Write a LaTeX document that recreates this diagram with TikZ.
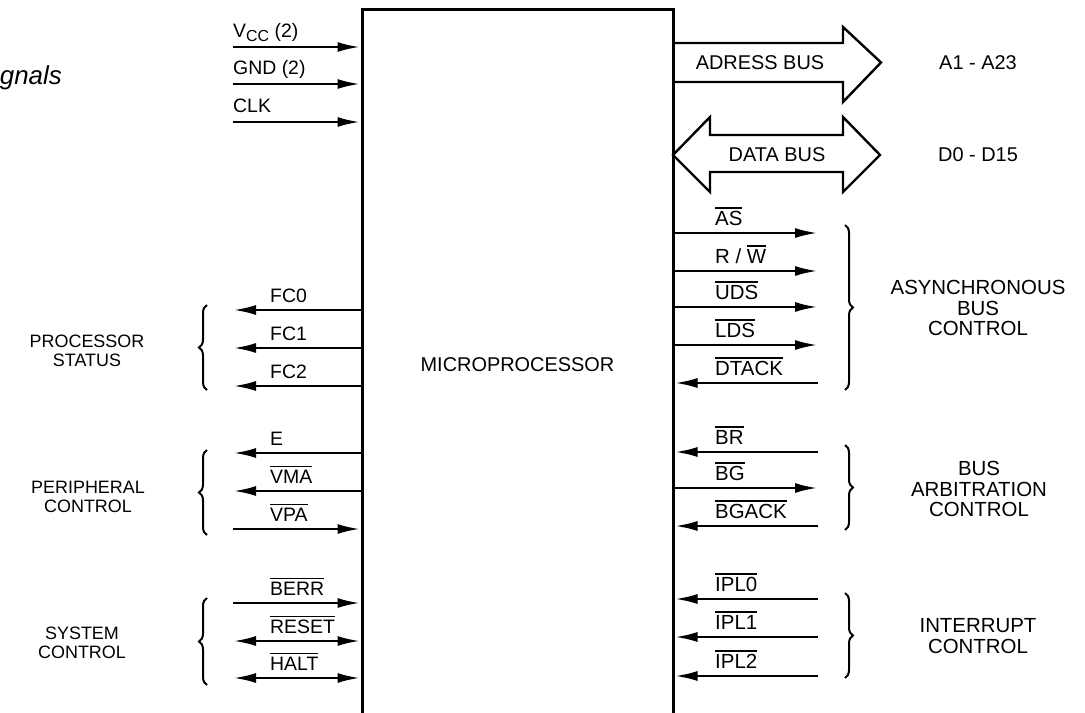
\documentclass[tikz,border=0pt]{standalone}
\usepackage{fontspec}
\setmainfont{Liberation Sans}
\usetikzlibrary{arrows.meta,decorations.pathreplacing}
\newcommand{\ovl}[1]{\leavevmode\vbox{\hrule height 1.3bp\kern 2.2bp\hbox{#1}}}

\begin{document}
\begin{tikzpicture}[
  x=1bp,y=-1bp,
  chip/.style={draw,line width=3bp,minimum width=311bp,minimum height=710bp,inner sep=0pt,font=\fontsize{20}{22}\selectfont},
  lab/.style={anchor=base west,inner sep=0pt,font=\fontsize{19.5}{20}\selectfont},
  rlab/.style={lab,font=\fontsize{20.5}{21}\selectfont},
  grp/.style={align=center,inner sep=0pt,font=\fontsize{18}{19.5}\selectfont},
  rgrp/.style={grp,font=\fontsize{20.5}{21}\selectfont},
  buslab/.style={inner sep=0pt,font=\fontsize{20}{22}\selectfont},
  ttl/.style={anchor=base east,inner sep=0pt,font=\fontsize{26}{28}\selectfont\itshape},
  sigout/.style={line width=2.8bp,-{Latex[length=23bp,width=10bp]}},
  sigboth/.style={line width=2.8bp,{Latex[length=23bp,width=10bp]}-{Latex[length=23bp,width=10bp]}},
  bus/.style={line width=2.4bp,line join=miter},
  grpbrace/.style={line width=2bp,decorate,decoration={brace,amplitude=8bp,aspect=0.5}}
]
  \useasboundingbox (0,0) rectangle (1085,713);
  \clip (0,0) rectangle (1085,713);

  \node[ttl] (title) at (62,85) {gnals};
  \node[chip] (mpu) at (517.5,365) {MICROPROCESSOR};

  % free ends of the signal lines
  \coordinate (vcc) at (233,47);
  \coordinate (gnd) at (233,84);
  \coordinate (clk) at (233,122);
  \coordinate (fc0) at (233,310);
  \coordinate (fc1) at (233,348);
  \coordinate (fc2) at (233,386);
  \coordinate (e) at (233,453);
  \coordinate (vma) at (233,491);
  \coordinate (vpa) at (233,529);
  \coordinate (berr) at (233,603);
  \coordinate (reset) at (233,641);
  \coordinate (halt) at (233,678);
  \coordinate (as) at (818,233);
  \coordinate (rw) at (818,271);
  \coordinate (uds) at (818,307);
  \coordinate (lds) at (818,345);
  \coordinate (dtack) at (818,383);
  \coordinate (br) at (818,452);
  \coordinate (bg) at (818,488);
  \coordinate (bgack) at (818,526);
  \coordinate (ipl0) at (818,599);
  \coordinate (ipl1) at (818,637);
  \coordinate (ipl2) at (818,676);

  % left side
  \node[lab] (vcclab) at ([yshift=9bp]vcc) {V\raisebox{-4bp}{\fontsize{16}{16}\selectfont CC} (2)};
  \node[lab] (gndlab) at ([yshift=9bp]gnd) {GND (2)};
  \node[lab] (clklab) at ([yshift=9bp]clk) {CLK};
  \draw[sigout] (vcc) -- (vcc -| mpu.west);
  \draw[sigout] (gnd) -- (gnd -| mpu.west);
  \draw[sigout] (clk) -- (clk -| mpu.west);

  \node[lab] (fc0lab) at ([xshift=37bp,yshift=8bp]fc0) {FC0};
  \node[lab] (fc1lab) at ([xshift=37bp,yshift=8bp]fc1) {FC1};
  \node[lab] (fc2lab) at ([xshift=37bp,yshift=8bp]fc2) {FC2};
  \draw[sigout] (fc0 -| mpu.west) -- (fc0);
  \draw[sigout] (fc1 -| mpu.west) -- (fc1);
  \draw[sigout] (fc2 -| mpu.west) -- (fc2);

  \node[lab] (elab) at ([xshift=37bp,yshift=8bp]e) {E};
  \node[lab] (vmalab) at ([xshift=37bp,yshift=8bp]vma) {\ovl{VMA}};
  \node[lab] (vpalab) at ([xshift=37bp,yshift=8bp]vpa) {\ovl{VPA}};
  \draw[sigout] (e -| mpu.west) -- (e);
  \draw[sigout] (vma -| mpu.west) -- (vma);
  \draw[sigout] (vpa) -- (vpa -| mpu.west);

  \node[lab] (berrlab) at ([xshift=37bp,yshift=8bp]berr) {\ovl{BERR}};
  \node[lab] (resetlab) at ([xshift=37bp,yshift=8bp]reset) {\ovl{RESET}};
  \node[lab] (haltlab) at ([xshift=37bp,yshift=8bp]halt) {\ovl{HALT}};
  \draw[sigout] (berr) -- (berr -| mpu.west);
  \draw[sigboth] (reset) -- (reset -| mpu.west);
  \draw[sigboth] (halt) -- (halt -| mpu.west);

  \draw[grpbrace] (207,390) -- (207,305);
  \draw[grpbrace] (207,535) -- (207,450);
  \draw[grpbrace] (207,685) -- (207,598);
  \node[grp] (stat) at (87,351) {PROCESSOR\\STATUS};
  \node[grp] (peri) at (88,497) {PERIPHERAL\\CONTROL};
  \node[grp] (sys) at (82,643) {SYSTEM\\CONTROL};

  % right side
  \draw[bus] (673,43) -- (843,43) -- (843,27) -- (881,62.5) -- (843,102) -- (843,82) -- (673,82);
  \draw[bus] (710,135) -- (843,135) -- (843,117) -- (880,155) -- (843,192) -- (843,172)
    -- (710,172) -- (710,192) -- (673,155) -- (710,117) -- cycle;
  \node[buslab] (abus) at (760,63) {ADRESS BUS};
  \node[buslab] (dbus) at (777,155) {DATA BUS};
  \node[buslab] (apins) at (978,63) {A1 - A23};
  \node[buslab] (dpins) at (978,155) {D0 - D15};

  \node[rlab] (aslab) at ([xshift=-103bp,yshift=8bp]as) {\ovl{AS}};
  \node[rlab] (rwlab) at ([xshift=-103bp,yshift=8bp]rw) {R / \ovl{W}};
  \node[rlab] (udslab) at ([xshift=-103bp,yshift=8bp]uds) {\ovl{UDS}};
  \node[rlab] (ldslab) at ([xshift=-103bp,yshift=8bp]lds) {\ovl{LDS}};
  \node[rlab] (dtacklab) at ([xshift=-103bp,yshift=8bp]dtack) {\ovl{DTACK}};
  \draw[sigout] (as -| mpu.east) -- (as);
  \draw[sigout] (rw -| mpu.east) -- (rw);
  \draw[sigout] (uds -| mpu.east) -- (uds);
  \draw[sigout] (lds -| mpu.east) -- (lds);
  \draw[sigout] (dtack) -- (dtack -| mpu.east);

  \node[rlab] (brlab) at ([xshift=-103bp,yshift=8bp]br) {\ovl{BR}};
  \node[rlab] (bglab) at ([xshift=-103bp,yshift=8bp]bg) {\ovl{BG}};
  \node[rlab] (bgacklab) at ([xshift=-103bp,yshift=8bp]bgack) {\ovl{BGACK}};
  \draw[sigout] (br) -- (br -| mpu.east);
  \draw[sigout] (bg -| mpu.east) -- (bg);
  \draw[sigout] (bgack) -- (bgack -| mpu.east);

  \node[rlab] (ipl0lab) at ([xshift=-103bp,yshift=8bp]ipl0) {\ovl{IPL0}};
  \node[rlab] (ipl1lab) at ([xshift=-103bp,yshift=8bp]ipl1) {\ovl{IPL1}};
  \node[rlab] (ipl2lab) at ([xshift=-103bp,yshift=8bp]ipl2) {\ovl{IPL2}};
  \draw[sigout] (ipl0) -- (ipl0 -| mpu.east);
  \draw[sigout] (ipl1) -- (ipl1 -| mpu.east);
  \draw[sigout] (ipl2) -- (ipl2 -| mpu.east);

  \draw[grpbrace] (845,225) -- (845,390);
  \draw[grpbrace] (845,445) -- (845,530);
  \draw[grpbrace] (845,593) -- (845,678);
  \node[rgrp] (async) at (978,308) {ASYNCHRONOUS\\BUS\\CONTROL};
  \node[rgrp] (arb) at (979,489) {BUS\\ARBITRATION\\CONTROL};
  \node[rgrp] (intr) at (978,636) {INTERRUPT\\CONTROL};
\end{tikzpicture}
\end{document}
